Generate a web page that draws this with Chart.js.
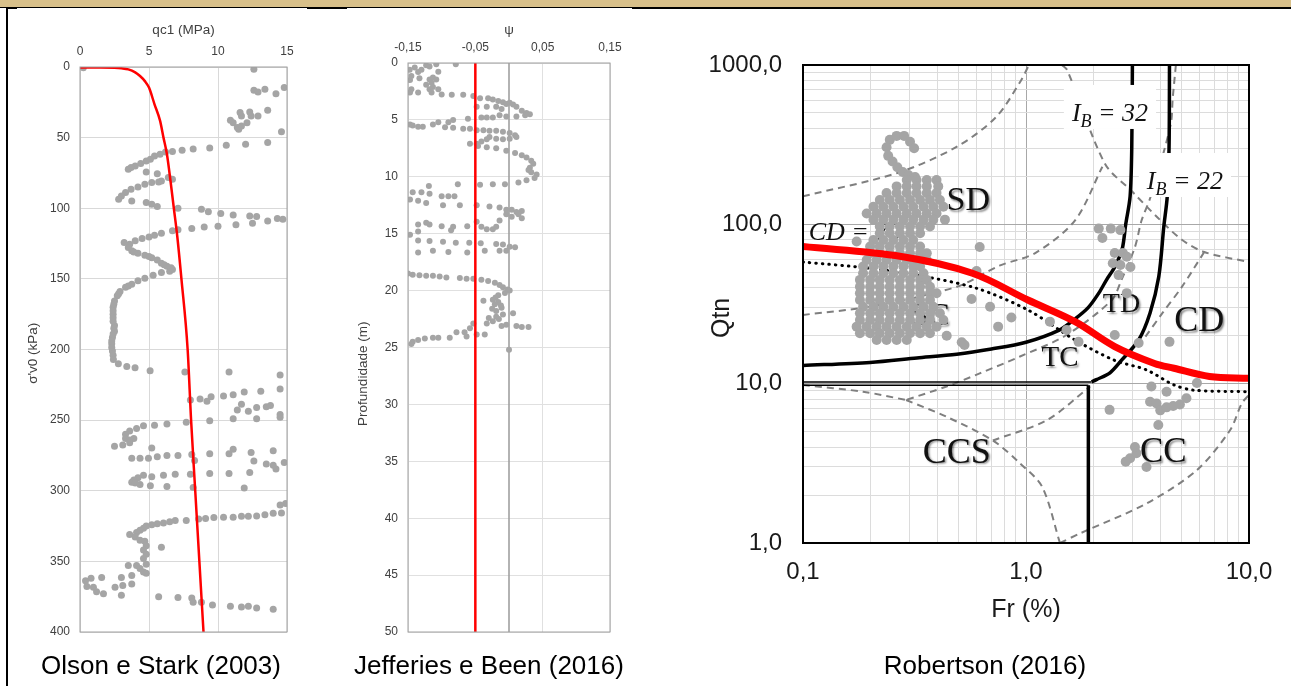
<!DOCTYPE html>
<html>
<head>
<meta charset="utf-8">
<script src="https://cdn.jsdelivr.net/npm/chart.js@4.4.1/dist/chart.umd.min.js"></script>
<style>
  body { margin:0; width:1291px; height:686px; background:#fff; position:relative; overflow:hidden; font-family:"Liberation Sans", Arial, sans-serif; }
  canvas { position:absolute; left:0; top:0; }
  .band { position:absolute; left:0; top:0; width:1291px; height:7px; background:#d8c08a; }
  .rule { position:absolute; background:#000; }
  .cap { position:absolute; top:649px; font-size:26px; line-height:32px; color:#000; transform:translateX(-50%); white-space:nowrap; }
</style>
</head>
<body>
<div class="band"></div>
<div class="rule" style="left:0;top:7px;width:1291px;height:1px"></div>
<div class="rule" style="left:6px;top:7px;width:11px;height:2px"></div>
<div class="rule" style="left:307px;top:7px;width:40px;height:2px"></div>
<div class="rule" style="left:632px;top:7px;width:659px;height:2px"></div>
<div class="rule" style="left:6px;top:7px;width:2px;height:679px"></div>

<canvas id="olson" width="1291" height="686"></canvas>
<canvas id="jefferies" width="1291" height="686"></canvas>
<canvas id="robertson" width="1291" height="686"></canvas>

<div class="cap" style="left:161px">Olson e Stark (2003)</div>
<div class="cap" style="left:489px">Jefferies e Been (2016)</div>
<div class="cap" style="left:985px">Robertson (2016)</div>

<script>
// ---------- Olson e Stark (2003): qc1 (MPa) x sigma'v0 (kPa) ----------
const olsonTicksX = [0, 5, 10, 15];
const olsonPoints = [
  [0.24,0.5],[12.6,1.6],[12.6,16.5],[12.9,17.7],[13.4,15.8],[14.2,18.9],[14.8,14.6],
  [10.9,37.7],[11.1,39.4],[11.7,34.7],[11.6,32.3],[12.3,31.8],[12.4,34.7],[11.4,42.9],[11.5,44.1],[11.7,41.7],[12.1,39.4],[12.9,34.7],[13.6,30.7],[14.6,45.8],
  [13.6,53.5],[12.0,54.7],[10.6,55.4],[9.4,57.3],[8.2,58],[7.4,59],[6.7,59.9],[6.2,60.1],[5.8,61.8],[5.4,63],[5.1,65.3],[4.8,66.5],[4.4,68.4],[4.0,70],[3.7,71.2],[3.5,72.4],
  [4.8,74.3],[5.6,75.5],[6.4,78.3],[6.7,79.5],[5.9,80.7],[5.7,81.4],[5.2,81.8],[4.7,83],[4.2,84.9],[3.7,86.6],[3.3,88.9],[3.0,91.3],[2.8,93.6],
  [3.75,94.8],[4.8,96],[5.2,97.2],[5.6,98.8],[7.1,100],[8.8,100.7],[9.3,102.4],[10.2,103.8],[11.1,104.7],[12.3,105.4],[12.8,105.9],[13.6,109],[14.3,107.3],[14.7,107.8],
  [12.5,110.6],[11.3,111.6],[10.0,112.7],[9.0,113.2],[8.1,114.4],[7.1,115.3],[6.7,116],[5.9,117.7],[5.4,119.1],[5.0,120.3],[4.5,121.5],[4.0,123],[3.6,125.5],[3.5,127.8],
  [3.75,130],[4.2,131.8],[4.7,133.3],[5.2,135],[5.6,136.6],[5.9,139],[6.3,141],[6.7,143.4],[6.5,144.6],[5.9,145.5],[5.3,147.4],[4.7,149.5],[4.2,151.4],[3.75,153.8],
  [3.3,156],[2.9,159],[2.7,162],[2.5,165.6],[2.4,170],[2.4,175],[2.4,180],[2.5,183],[2.5,187],[2.35,191.5],[2.3,196],[2.35,201],
  [3.2,124.2],[3.9,131],[5.0,134.2],[6.1,140],[6.6,142.2],[3.5,155],[2.8,160.5],[2.45,168],[2.4,172.5],[2.4,177.5],[2.45,185],[2.4,189],[2.3,194],[2.3,198.5],[2.4,204],
  [2.42,207],[2.78,210],[3.39,212],[3.99,213],[5.08,215],[7.6,216],[10.8,216],[14.5,218],
  [14.5,228],[13.1,229.5],[11.9,230],[11.1,232],[10.4,233],[9.5,233.5],[9.2,236.6],[8.7,235],[8.0,235.7],
  [11.7,238.8],[11.4,242.8],[12.2,243.7],[12.8,241],[12.8,249],[13.5,240.6],[13.8,239.7],[14.5,246],[14.5,248],[11.1,249],[9.4,250.5],[7.7,251.5],[6.3,252.7],
  [5.4,253.6],[4.6,254],[4.1,256],[3.6,257.7],[3.3,260],[3.3,263],[3.6,264],[3.9,263],[3.6,266],[3.1,267.6],[2.5,268.5],
  [5.2,269.8],[3.75,277],[4.35,277],[4.96,277],[5.6,276],[6.3,275],[7.1,275],[8.1,274.4],[8.3,278.5],[9.4,273.8],[10.8,273.8],[11.1,270.7],[12.4,272.9],[12.6,279],
  [12.3,287],[10.8,287.7],[9.4,287.7],[8.0,288.4],[6.9,288.4],[6.05,289],[5.2,290],[4.6,289],[4.2,290.8],[3.9,292.4],[3.75,294],[4.0,294.6],[4.35,295.5],[5.1,296.4],
  [6.3,297],[8.2,297.7],[11.9,298],[14.0,271.6],[13.5,281],[14.0,282],[14.2,284.6],[14.8,280],
  [14.9,309],[14.5,310],[14.6,315.7],[14.0,316],[13.4,317],[12.8,317.8],[12.2,318],[11.7,318],[11.1,318.8],[10.4,318.8],[9.7,319],[9.1,319.7],[8.6,320],[7.7,321],
  [6.9,321],[6.5,322],[6.05,322.8],[5.6,323.4],[5.2,324],[4.8,325],[4.6,326.5],[4.35,328],[4.1,329.6],[3.6,331],[4.0,332.7],[4.35,335],[4.7,335.8],[4.8,339],
  [5.9,340],[4.6,342],[4.8,345],[4.6,348],[4.8,352],[4.35,355],[4.6,357.5],[4.1,353],[3.5,353],[4.8,358.4],[3.75,360],[3.0,361.5],[1.57,361.5],[0.8,362],
  [0.4,363.7],[0.5,367.8],[0.97,368.4],[1.2,371.5],[1.7,373],[2.54,368.4],[3.1,367],[3.75,366],[3.0,374],[5.7,375],[7.1,375.5],[8.1,376],[8.2,379],[8.8,379],
  [9.6,380.8],[10.9,381.7],[11.7,382.3],[12.2,381.7],[12.8,383],[14.0,383.9]
];
const olsonLineQc = [0, 1.5, 2.5, 3.0, 3.5, 4.0, 4.35, 4.7, 5.0, 5.4, 5.8, 6.05, 6.3, 6.55, 6.8, 7.05, 7.35, 7.8, 8.05, 8.35, 8.65, 8.95];
const olsonLineSv = [0.3, 0.3, 0.5, 0.9, 1.7, 3.8, 6.4, 10, 14.6, 26.4, 38, 50, 61.8, 80, 100, 120, 150, 200, 250, 300, 350, 400];

// ---------- Jefferies e Been (2016): psi x profundidade (m) ----------
const psiTicks = [-0.15, -0.05, 0.05, 0.15];
const jbPoints = [
  [-0.079,0.1],[-0.1475,0.6],[-0.14,0.4],[-0.135,0.8],[-0.123,0.2],[-0.118,0.3],[-0.108,0.1],[-0.13,0.6],[-0.145,1.15],[-0.133,1.35],[-0.147,1.5],[-0.118,1.46],
  [-0.113,1.27],[-0.108,1.46],[-0.105,0.77],[-0.115,1.73],[-0.123,1.92],[-0.113,2.1],[-0.118,2.3],[-0.105,2.3],[-0.145,2.3],[-0.147,2.6],[-0.135,2.6],[-0.115,2.6],
  [-0.1,2.77],[-0.085,2.8],[-0.068,2.8],
  [-0.053,2.9],[-0.043,3.1],[-0.031,3.1],[-0.024,3.2],[-0.016,3.35],[-0.009,3.46],[-0.004,3.6],[0.001,3.5],[0.006,3.65],[0.011,3.85],[0.019,4.2],[0.026,4.4],
  [0.031,4.5],[0.024,4.6],[0.011,4.7],[-0.004,4.7],[-0.014,4.6],[-0.024,4.8],[-0.033,4.8],[-0.041,4.8],[-0.048,3.85],[-0.033,3.85],[-0.019,3.85],[-0.011,4.04],
  [-0.061,4.9],[-0.083,5],[-0.09,5.2],[-0.105,5.2],[-0.113,5.4],[-0.128,5.6],[-0.135,5.6],[-0.147,5.4],[-0.143,5.5],[-0.095,5.65],[-0.083,5.7],[-0.068,5.77],
  [-0.058,5.77],[-0.048,5.9],[-0.038,5.9],[-0.029,5.96],[-0.019,5.96],[-0.009,6.04],[0.001,6.15],[0.009,6.35],[0.011,6.5],[0.001,6.65],[-0.009,6.7],[-0.019,6.65],
  [-0.029,6.5],[-0.033,6.7],[-0.041,6.9],[-0.048,7.1],[-0.058,7.1],[-0.046,7.3],[-0.033,7.4],[-0.019,7.5],[-0.004,7.7],[0.009,7.9],[0.019,8.1],[0.026,8.3],
  [0.033,8.6],[0.036,8.85],[0.031,9.2],[0.029,9.4],[0.033,9.6],[0.041,9.8],[0.038,10.1],[0.026,10.3],[0.014,10.5],[-0.006,10.65],[-0.024,10.65],[-0.043,10.7],
  [-0.076,10.65],[-0.119,10.8],
  [-0.143,11.35],[-0.13,11.35],[-0.118,11.5],[-0.1,11.7],[-0.09,11.7],[-0.081,11.7],[-0.147,12],[-0.135,12.1],[-0.123,12.3],[-0.098,12.5],[-0.073,12.5],[-0.048,12.5],
  [-0.029,12.6],[-0.014,12.7],[-0.004,12.9],[0.004,12.9],[0.011,13.1],[0.019,13],[0.014,13.3],[0.019,13.65],[0.004,13.5],[-0.004,13.3],[-0.014,13.85],
  [-0.135,14.2],[-0.123,14.04],[-0.118,14.2],[-0.1,14.35],[-0.083,14.4],[-0.062,14.35],[-0.048,13.96],[-0.041,14.4],[-0.033,14.6],[-0.024,14.6],[-0.019,14.4],
  [-0.147,15.1],[-0.135,14.8],[-0.086,14.7],
  [-0.135,15.6],[-0.118,15.65],[-0.098,15.7],[-0.079,15.8],[-0.059,15.8],[-0.042,15.85],[-0.019,15.9],[-0.009,15.96],[0.001,16.15],[0.009,16.2],[-0.004,16.5],
  [-0.014,16.5],[-0.036,16.5],[-0.062,16.65],[-0.09,16.6],[-0.113,16.5],[-0.135,16.65],
  [-0.15,18.5],[-0.143,18.6],[-0.133,18.65],[-0.123,18.7],[-0.113,18.7],[-0.103,18.77],[-0.093,18.85],[-0.073,18.9],[-0.063,18.96],[-0.053,18.96],[-0.041,19.04],
  [-0.031,19.15],[-0.021,19.3],[-0.014,19.5],[-0.009,19.7],[-0.002,19.9],[0.001,20],[-0.006,20.2],[-0.016,20.4],[-0.024,20.8],[-0.016,21],[-0.021,21.2],
  [-0.038,20.9],[-0.011,21.5],[-0.019,21.8],[-0.009,22.1],[0.006,22],[-0.019,22.3],[-0.024,22.7],[-0.033,22.9],[-0.053,22.9],[-0.011,23.1],[-0.004,23],
  [0.011,23.1],[0.019,23.2],[0.029,23.2],[-0.02,20.6],[-0.012,21.3],[-0.025,21.6],[-0.015,22.5],[-0.03,22.4],
  [-0.058,23.3],[-0.066,23.65],[-0.078,23.65],[-0.048,23.85],[-0.036,23.85],[-0.063,24.04],[-0.088,24.15],[-0.105,24.15],[-0.113,24.15],[-0.125,24.2],
  [-0.135,24.35],[-0.143,24.5],[-0.145,24.7],[0.0,25.2]
];
const jbLimitPsi = [-0.05, -0.05];
const jbZeroPsi = [0, 0];
const jbLineDepth = [0, 50];

// ---------- Robertson (2016): Fr (%) x Qtn ----------
const frGrid = [0.1,0.2,0.3,0.4,0.5,0.6,0.7,0.8,0.9,1,2,3,4,5,6,7,8,9,10];
const qtnGrid = [1,2,3,4,5,6,7,8,9,10,20,30,40,50,60,70,80,90,100,200,300,400,500,600,700,800,900,1000];
const cptPoints = [
  [0.245,339],[0.263,359],[0.284,359],[0.302,330],[0.315,300],[0.237,305],[0.241,269],[0.252,248],[0.265,228],[0.28,213],[0.297,204],[0.318,198],
  [0.292,190],[0.323,190],[0.359,190],[0.397,190],
  [0.263,173],[0.292,173],[0.323,173],[0.359,173],[0.404,173],
  [0.237,157],[0.263,157],[0.292,157],[0.323,157],[0.359,157],[0.397,157],
  [0.221,142],[0.245,142],[0.272,142],[0.302,142],[0.335,142],[0.371,142],[0.411,142],
  [0.207,129],[0.229,129],[0.254,129],[0.282,129],[0.312,129],[0.347,129],[0.384,129],[0.426,129],
  [0.193,117],[0.214,117],[0.237,117],[0.263,117],[0.292,117],[0.323,117],[0.359,117],[0.397,117],
  [0.207,107],[0.229,107],[0.254,107],[0.282,107],[0.312,107],[0.347,107],[0.384,107],[0.433,107],
  [0.221,96.8],[0.245,96.8],[0.272,96.8],[0.302,96.8],[0.335,96.8],[0.371,96.8],
  [0.221,87.9],[0.245,87.9],[0.272,87.9],[0.302,87.9],[0.335,87.9],
  [0.207,79.8],[0.229,79.8],[0.254,79.8],[0.282,79.8],[0.312,79.8],[0.174,78],
  [0.2,72.5],[0.221,72.5],[0.245,72.5],[0.272,72.5],[0.302,72.5],[0.335,72.5],
  [0.2,65.8],[0.221,65.8],[0.245,65.8],[0.272,65.8],[0.302,65.8],[0.335,65.8],[0.359,65.8],
  [0.193,59.8],[0.214,59.8],[0.237,59.8],[0.263,59.8],[0.292,59.8],[0.323,59.8],[0.359,59.8],
  [0.186,54.3],[0.207,54.3],[0.229,54.3],[0.254,54.3],[0.282,54.3],[0.312,54.3],[0.335,54.3],
  [0.186,49.3],[0.207,49.3],[0.229,49.3],[0.254,49.3],[0.282,49.3],[0.312,49.3],[0.347,49.3],
  [0.18,44.8],[0.2,44.8],[0.221,44.8],[0.245,44.8],[0.272,44.8],[0.302,44.8],[0.335,44.8],[0.359,44.8],
  [0.18,40.6],[0.2,40.6],[0.221,40.6],[0.245,40.6],[0.272,40.6],[0.302,40.6],[0.335,40.6],[0.371,40.6],
  [0.18,36.9],[0.2,36.9],[0.221,36.9],[0.245,36.9],[0.272,36.9],[0.302,36.9],[0.335,36.9],[0.371,36.9],[0.397,36.9],
  [0.18,33.5],[0.2,33.5],[0.221,33.5],[0.245,33.5],[0.272,33.5],[0.302,33.5],[0.335,33.5],[0.371,33.5],
  [0.186,30.4],[0.207,30.4],[0.229,30.4],[0.254,30.4],[0.282,30.4],[0.312,30.4],[0.347,30.4],[0.384,30.4],
  [0.18,27.7],[0.2,27.7],[0.221,27.7],[0.245,27.7],[0.272,27.7],[0.302,27.7],[0.335,27.7],[0.371,27.7],[0.411,27.7],
  [0.18,25.1],[0.2,25.1],[0.221,25.1],[0.245,25.1],[0.272,25.1],[0.302,25.1],[0.335,25.1],[0.371,25.1],[0.426,25.1],
  [0.174,22.8],[0.193,22.8],[0.214,22.8],[0.237,22.8],[0.263,22.8],[0.292,22.8],[0.323,22.8],[0.359,22.8],[0.397,22.8],
  [0.18,20.7],[0.2,20.7],[0.221,20.7],[0.245,20.7],[0.272,20.7],[0.302,20.7],[0.335,20.7],[0.371,20.7],
  [0.214,18.8],[0.237,18.8],[0.263,18.8],[0.292,18.8],
  [0.62,72],[0.6,51],[0.57,34],[0.69,30.4],[0.75,22.8],[0.86,26],[0.515,18.2],[0.441,20],[0.53,17.5],
  [1.28,24.5],[1.52,21.7],[1.72,18.3],
  [2.12,94],[2.4,94],[2.65,92],[2.2,82],[2.5,66],[2.72,66],[2.83,62.7],[2.45,57],[2.65,55.6],[2.94,54],[2.6,48],[2.83,37],[2.5,20.2],[3.2,18],[4.4,18.3],
  [5.84,10.1],[3.65,9.6],[4.27,8.9],[3.6,7.7],[3.85,7.5],[4.0,6.8],[4.27,7.1],[4.57,7.25],[4.9,7.4],[5.24,8.1],[3.92,5.5],[2.37,6.85],
  [2.93,3.4],[2.8,3.24],[3.13,3.66],[3.47,3.0],[3.08,4.0]
];
const cd70Fr  = [0.1, 0.276, 0.575, 1.02, 1.66, 2.5, 3.77, 4.61, 6.65, 10];
const cd70Qtn = [72.5, 62.8, 49.3, 33.5, 24.5, 17.1, 13.4, 12.5, 11.1, 10.8];
const dotFr  = [0.1, 0.2, 0.324, 0.6, 1.02, 1.66, 2.5, 3.47, 4.6, 5.66, 10];
const dotQtn = [58, 53, 48, 39.7, 29, 18.8, 14, 12.2, 9.83, 9.1, 8.9];
const ib32Fr  = [0.1, 0.2, 0.324, 0.489, 0.7, 1.0, 1.41, 1.66, 1.9, 2.12, 2.3, 2.5, 2.7, 2.8, 2.93, 2.98, 3.0];
const ib32Qtn = [13.0, 13.6, 14.5, 15.3, 16.5, 18.2, 21.7, 25.5, 30, 37, 45, 54, 70, 100, 150, 300, 1000];
const ib22Fr  = [4.4, 4.38, 4.3, 4.15, 3.94, 3.6, 3.2, 2.69, 2.38, 2.07, 1.97];
const ib22Qtn = [1000, 300, 150, 97, 47, 27.8, 18.8, 14.1, 11.7, 10.6, 10.26];
const baseUpperFr = [1.97, 0.1];
const baseUpperQtn = [10.26, 10.26];
const baseLowerFr = [0.1, 1.904];
const baseLowerQtn = [9.78, 9.78];
const ccsLimitFr = [1.904, 1.904];
const ccsLimitQtn = [9.78, 1];
const zoneLinesFr = [
  [0.1, 0.265, 0.49, 0.735, 0.95, 1.03],
  [0.1, 0.2, 0.49, 0.76, 1.1, 1.66, 2.2],
  [1.45, 1.53, 2.26, 3.0, 3.9, 5.0, 6.3, 10],
  [4.7, 4.55, 4.45, 3.62, 3.3, 3.08, 2.68, 2.42, 1.52, 0.94, 0.62, 0.44, 0.29],
  [0.1, 0.186, 0.29],
  [0.29, 0.44, 0.71, 0.94, 1.18, 1.42],
  [1.42, 1.75, 3.47, 5.84, 8.22, 9.27, 10],
  [0.71, 1.24, 1.94],
  [6.3, 5.0, 4.08, 3.43]
];
const zoneLinesQtn = [
  [150, 210, 307, 472, 800, 1000],
  [27, 30.5, 40.6, 55, 66, 106, 230],
  [1000, 930, 240, 160, 110, 80, 67, 58],
  [1000, 620, 420, 149, 106, 72, 44.8, 33.4, 20.2, 14.8, 11.6, 9.6, 7.9],
  [9.8, 8.9, 7.9],
  [7.9, 6.2, 4.4, 3.16, 2.26, 1.0],
  [1.0, 1.15, 1.77, 2.87, 5.1, 7.5, 8.5],
  [4.4, 5.9, 9.6],
  [67, 40.5, 27.6, 19.7]
];
const zoneNames = ['SD', 'SC', 'TD', 'CD', 'TC', 'CCS', 'CC'];
const zoneFr    = [0.551, 0.371, 2.68, 5.98, 1.42, 0.489, 4.13];
const zoneQtn   = [139, 26.3, 31.2, 24.5, 14.4, 3.66, 3.66];
const zoneSize  = [34, 32, 28, 36, 29, 36, 35];
const ibValues = ['32', '22'];
const ibFr  = [2.38, 5.16];
const ibQtn = [500, 187];

// ---------- helpers ----------
const xy = (xs, ys) => xs.map((x, i) => ({x: x, y: ys[i]}));
const fromPairs = arr => arr.map(p => ({x: p[0], y: p[1]}));
const isDecade = v => v !== undefined && Math.abs(Math.log10(v) - Math.round(Math.log10(v))) < 1e-6;
const comma = (v, d) => v.toFixed(d).replace('.', ',');
const nb = n => '\u00a0'.repeat(n);   // pads a rotated title so it sits lower on its axis

Chart.defaults.font.family = '"Liberation Sans", Arial, sans-serif';

const frame = {
  id: 'frame',
  afterDatasetsDraw(chart, args, opts) {
    const a = chart.chartArea, ctx = chart.ctx;
    ctx.save();
    ctx.strokeStyle = opts.color;
    ctx.lineWidth = opts.width;
    ctx.strokeRect(a.left, a.top, a.right - a.left, a.bottom - a.top);
    ctx.restore();
  }
};

const baseOpts = {
  responsive: false,
  animation: false,
  plugins: { legend: { display: false }, tooltip: { enabled: false } }
};

const gray = '#a5a5a5';
const smallTick = { size: 12 };
const smallTitle = { size: 13.5 };
const tickColor = '#404040';

// ---------- chart 1 ----------
new Chart(document.getElementById('olson'), {
  type: 'scatter',
  data: {
    datasets: [
      { data: xy(olsonLineQc, olsonLineSv), showLine: true, borderColor: '#ff0000', borderWidth: 2.5, pointRadius: 0, cubicInterpolationMode: 'monotone', order: 0 },
      { data: fromPairs(olsonPoints), pointRadius: 3.5, pointBackgroundColor: gray, pointBorderWidth: 0, order: 1 }
    ]
  },
  options: Object.assign({}, baseOpts, {
    layout: { padding: { left: 0, top: 10, right: 1004, bottom: 54 } },
    scales: {
      x: {
        type: 'linear', position: 'top', min: 0, max: 15,
        afterBuildTicks: s => { s.ticks = olsonTicksX.map(v => ({value: v})); },
        afterFit: s => { s.height = 57; },
        grid: { color: '#d9d9d9', drawTicks: false },
        border: { display: false },
        ticks: { padding: 8, font: smallTick, color: tickColor },
        title: { display: true, text: 'qc1 (MPa)', font: smallTitle, color: tickColor, padding: { top: 12, bottom: 0 } }
      },
      y: {
        type: 'linear', reverse: true, min: 0, max: 400,
        afterFit: s => { s.width = 80; },
        grid: { color: '#d9d9d9', drawTicks: false },
        border: { display: false },
        ticks: { stepSize: 50, padding: 10, font: smallTick, color: tickColor },
        title: { display: true, text: "σ'v0 (kPa)" + nb(2), font: smallTitle, color: tickColor, padding: { top: 25, bottom: 0 } }
      }
    },
    plugins: Object.assign({}, baseOpts.plugins, { frame: { color: '#a0a0a0', width: 1 } })
  }),
  plugins: [frame]
});

// ---------- chart 2 ----------
new Chart(document.getElementById('jefferies'), {
  type: 'scatter',
  data: {
    datasets: [
      { data: xy(jbLimitPsi, jbLineDepth), showLine: true, borderColor: '#ff0000', borderWidth: 2.5, pointRadius: 0, order: 0 },
      { data: fromPairs(jbPoints), pointRadius: 3, pointBackgroundColor: gray, pointBorderWidth: 0, order: 1 },
      { data: xy(jbZeroPsi, jbLineDepth), showLine: true, borderColor: '#9a9a9a', borderWidth: 1.5, pointRadius: 0, order: 2 }
    ]
  },
  options: Object.assign({}, baseOpts, {
    layout: { padding: { left: 340, top: 10, right: 681, bottom: 54 } },
    scales: {
      x: {
        type: 'linear', position: 'top', min: -0.15, max: 0.15,
        afterBuildTicks: s => { s.ticks = psiTicks.map(v => ({value: v})); },
        afterFit: s => { s.height = 53; },
        grid: { color: '#e0e0e0', drawTicks: false },
        border: { display: false },
        ticks: { padding: 8, font: smallTick, color: tickColor, callback: v => comma(v, 2) },
        title: { display: true, text: 'ψ', font: smallTitle, color: tickColor, padding: { top: 12, bottom: 0 } }
      },
      y: {
        type: 'linear', reverse: true, min: 0, max: 50,
        afterFit: s => { s.width = 68; },
        grid: { color: '#e0e0e0', drawTicks: false },
        border: { display: false },
        ticks: { stepSize: 5, padding: 10, font: smallTick, color: tickColor },
        title: { display: true, text: 'Profundidade (m)' + nb(14), font: smallTitle, color: tickColor, padding: { top: 15, bottom: 0 } }
      }
    },
    plugins: Object.assign({}, baseOpts.plugins, { frame: { color: '#a0a0a0', width: 1 } })
  }),
  plugins: [frame]
});

// ---------- chart 3 ----------
const serif = '"Liberation Serif", "Times New Roman", serif';
const zoneText = {
  id: 'zoneText',
  beforeDatasetDraw(chart, args) {
    if (chart.data.datasets[args.index].label !== 'CPT') return;
    const ctx = chart.ctx, sx = chart.scales.x, sy = chart.scales.y;
    ctx.save();
    // I_B labels on white boxes
    ibValues.forEach((val, i) => {
      const cx = sx.getPixelForValue(ibFr[i]), cy = sy.getPixelForValue(ibQtn[i]);
      const big = 'italic 26px ' + serif, small = 'italic 18px ' + serif;
      ctx.font = big;
      const wI = ctx.measureText('I').width, rest = ' = ' + val, wR = ctx.measureText(rest).width;
      ctx.font = small;
      const wB = ctx.measureText('B').width;
      const w = wI + wB + wR, x0 = cx - w / 2;
      ctx.fillStyle = '#fff';
      ctx.fillRect(x0 - 8, cy - 28, w + 16, 44);
      ctx.fillStyle = '#111';
      ctx.textAlign = 'left';
      ctx.textBaseline = 'alphabetic';
      ctx.font = big; ctx.fillText('I', x0, cy + 8);
      ctx.font = small; ctx.fillText('B', x0 + wI, cy + 14);
      ctx.font = big; ctx.fillText(rest, x0 + wI + wB, cy + 8);
    });
    // CD = 70 label
    ctx.font = 'italic 26px ' + serif;
    ctx.fillStyle = '#111';
    ctx.textAlign = 'left';
    ctx.textBaseline = 'middle';
    ctx.fillText('CD = 70', sx.getPixelForValue(0.106), sy.getPixelForValue(88));
    // zone names with a soft shadow
    ctx.textAlign = 'center';
    ctx.shadowColor = 'rgba(0,0,0,0.45)';
    ctx.shadowBlur = 2;
    ctx.shadowOffsetX = 1.5;
    ctx.shadowOffsetY = 1.5;
    zoneNames.forEach((t, i) => {
      ctx.font = zoneSize[i] + 'px ' + serif;
      ctx.fillText(t, sx.getPixelForValue(zoneFr[i]), sy.getPixelForValue(zoneQtn[i]));
    });
    ctx.restore();
  }
};

const dashed = zoneLinesFr.map((fr, i) => ({
  data: xy(fr, zoneLinesQtn[i]), showLine: true, borderColor: '#7f7f7f', borderWidth: 2,
  borderDash: [7, 5], pointRadius: 0, tension: 0.3, order: 4
}));
const blackLine = (fr, q, w, t) => ({
  data: xy(fr, q), showLine: true, borderColor: '#000', borderWidth: w, pointRadius: 0, tension: t, order: 2
});

const bigTick = { size: 24 };
const bigTitle = { size: 25 };
const darkText = '#1a1a1a';

new Chart(document.getElementById('robertson'), {
  type: 'scatter',
  data: {
    datasets: [
      { data: xy(cd70Fr, cd70Qtn), showLine: true, borderColor: '#ff0000', borderWidth: 7, pointRadius: 0, tension: 0.35, order: 0 },
      { label: 'CPT', data: fromPairs(cptPoints), pointRadius: 5, pointBackgroundColor: gray, pointBorderWidth: 0, order: 1 },
      blackLine(ib32Fr, ib32Qtn, 3.5, 0.3),
      blackLine(ib22Fr, ib22Qtn, 3.5, 0.3),
      blackLine(baseUpperFr, baseUpperQtn, 1.5, 0),
      blackLine(baseLowerFr, baseLowerQtn, 1.5, 0),
      blackLine(ccsLimitFr, ccsLimitQtn, 3.5, 0),
      { data: xy(dotFr, dotQtn), showLine: true, borderColor: '#000', borderWidth: 3, borderDash: [0.5, 6], borderCapStyle: 'round', pointRadius: 0, tension: 0.3, order: 3 }
    ].concat(dashed)
  },
  options: Object.assign({}, baseOpts, {
    layout: { padding: { left: 690, top: 65, right: 42, bottom: 43 } },
    scales: {
      x: {
        type: 'logarithmic', position: 'bottom', min: 0.1, max: 10,
        afterBuildTicks: s => { s.ticks = frGrid.map(v => ({value: v})); },
        afterFit: s => { s.height = 100; },
        grid: { color: c => isDecade(c.tick && c.tick.value) ? '#a8a8a8' : '#dcdcdc', drawTicks: false },
        border: { display: false },
        ticks: { autoSkip: false, maxRotation: 0, padding: 15, font: bigTick, color: darkText,
                 callback: v => isDecade(v) ? comma(v, 1) : '' },
        title: { display: true, text: 'Fr (%)', font: bigTitle, color: darkText, padding: { top: 0, bottom: 18 } }
      },
      y: {
        type: 'logarithmic', position: 'left', min: 1, max: 1000,
        afterBuildTicks: s => { s.ticks = qtnGrid.map(v => ({value: v})); },
        afterFit: s => { s.width = 113; },
        grid: { color: c => isDecade(c.tick && c.tick.value) ? '#a8a8a8' : '#dcdcdc', drawTicks: false },
        border: { display: false },
        ticks: { autoSkip: false, padding: 21, font: bigTick, color: darkText,
                 callback: v => isDecade(v) ? comma(v, 1) : '' },
        title: { display: true, text: 'Qtn' + nb(4), font: bigTitle, color: darkText, padding: { top: 17, bottom: 0 } }
      }
    },
    plugins: Object.assign({}, baseOpts.plugins, { frame: { color: '#000', width: 2 } })
  }),
  plugins: [frame, zoneText]
});
</script>
</body>
</html>
